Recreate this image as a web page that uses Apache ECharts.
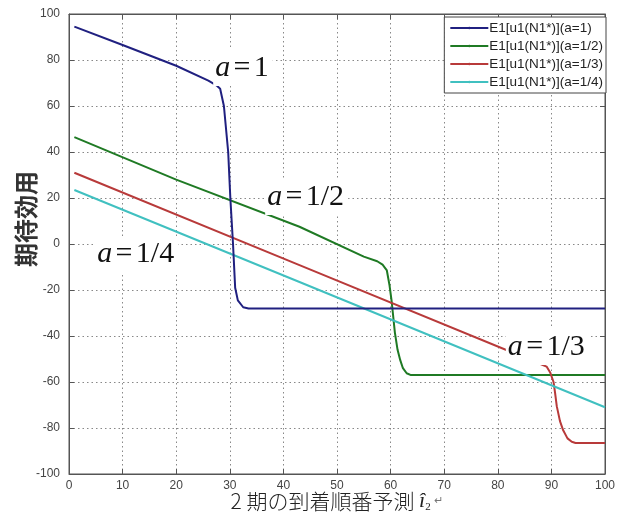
<!DOCTYPE html>
<html>
<head>
<meta charset="utf-8">
<script src="https://cdn.jsdelivr.net/npm/echarts@6/dist/echarts.min.js"></script>
<style>
  html, body { margin: 0; padding: 0; background: #fff; }
  #myChart { width: 622px; height: 518px; }
</style>
</head>
<body>
<div id="myChart"></div>
<script>
// data: [x, y] pairs
const seriesNames = ['E1[u1(N1*)](a=1)', 'E1[u1(N1*)](a=1/2)', 'E1[u1(N1*)](a=1/3)', 'E1[u1(N1*)](a=1/4)'];
const curveA1 = [[1,94.5],[10,86.5],[20,77.5],[26,71],[27.5,69],[28.2,67.5],[28.9,60],[29.7,40],[30.1,20],[30.6,0],[31,-19],[31.5,-24.5],[32.5,-27.5],[33.5,-28],[100,-28]];
const curveA2 = [[1,46.5],[20,28],[43,7.5],[55,-5.5],[57.5,-7.5],[58.5,-9],[59.3,-11.5],[59.8,-18],[60.2,-25],[60.8,-38.5],[61.3,-46],[61.8,-50.5],[62.3,-54],[63,-56.2],[63.8,-57],[100,-57]];
const curveA3 = [[1,31],[43,-9.2],[88.3,-52.5],[89.1,-53.3],[89.8,-56],[90.4,-60],[90.7,-65],[91,-70.5],[91.6,-77],[92.2,-81],[93,-84.5],[93.8,-86],[94.5,-86.5],[100,-86.5]];
const curveA4 = [[1,23.5],[43,-16.5],[100,-71]];
const curveColors = ['#202080', '#1f7a24', '#b83a3a', '#40c0c0'];
// tick labels / axis ranges
const xMin = 0, xMax = 100, xStep = 10;
const yMin = -100, yMax = 100, yStep = 20;
// annotations: [text in fraction, x, y(center)]
const notes = [['1', 26.9, 76.5], ['1/2', 36.6, 20.4], ['1/4', 4.9, -4.3], ['1/3', 81.5, -44.8]];

let myChart = echarts.init(document.getElementById('myChart'));
const curves = [curveA1, curveA2, curveA3, curveA4];

const axisLab = { color: '#444', fontFamily: 'Arial, Liberation Sans', fontSize: 12 };
const gridLine = { show: true, lineStyle: { color: '#888', type: [1.5, 3], width: 1 } };

myChart.setOption({
  animation: false,
  backgroundColor: '#fff',
  grid: {
    left: 69, right: 17, top: 14, bottom: 44,
    containLabel: false, outerBoundsMode: 'none',
    show: true, borderColor: '#555', borderWidth: 1
  },
  legend: {
    orient: 'vertical',
    right: 16,
    top: 17,
    itemWidth: 38,
    itemHeight: 3,
    itemGap: 4,
    padding: [4, 3, 4, 5],
    borderColor: '#444',
    borderWidth: 1,
    backgroundColor: '#fff',
    textStyle: { fontFamily: 'Arial, Liberation Sans', fontSize: 13.5, color: '#222', padding: [0, 0, 0, -4] },
    data: seriesNames
  },
  xAxis: [{
    type: 'value', min: xMin, max: xMax, interval: xStep,
    axisLine: { show: true, onZero: false, lineStyle: { color: '#555' } },
    axisTick: { inside: true, length: 5, lineStyle: { color: '#555' } },
    axisLabel: Object.assign({ margin: 6 }, axisLab),
    splitLine: gridLine,
    name: '{t|2 期の到着順番予測 }{i|î}{s|2}{r| ↵}',
    nameLocation: 'middle',
    nameMoveOverlap: false,
    nameGap: 16,
    nameTextStyle: {
      rich: {
        t: { fontFamily: 'Noto Sans CJK JP', fontSize: 21, color: '#222', fontWeight: 300 },
        i: { fontFamily: 'Liberation Serif', fontStyle: 'italic', fontSize: 22, color: '#222' },
        s: { fontFamily: 'Liberation Serif', fontSize: 11, color: '#222', padding: [12, 0, 0, 0] },
        r: { fontFamily: 'DejaVu Sans', fontSize: 11, color: '#777' }
      }
    }
  }, {
    type: 'value', min: xMin, max: xMax, interval: xStep, position: 'top',
    axisLine: { show: true, onZero: false, lineStyle: { color: '#555' } },
    axisTick: { inside: true, length: 5, lineStyle: { color: '#555' } },
    axisLabel: { show: false }, splitLine: { show: false }
  }],
  yAxis: [{
    type: 'value', min: yMin, max: yMax, interval: yStep,
    axisLine: { show: true, onZero: false, lineStyle: { color: '#555' } },
    axisTick: { show: true, inside: true, length: 5, lineStyle: { color: '#555' } },
    axisLabel: Object.assign({ margin: 9 }, axisLab),
    splitLine: gridLine,
    name: '期待効用',
    nameLocation: 'middle',
    nameRotate: 90,
    nameMoveOverlap: false,
    nameGap: 31,
    nameTextStyle: { fontFamily: 'Noto Sans CJK JP', fontSize: 24, fontWeight: 'bold', color: '#333', padding: [0, 0, 0, 50] }
  }, {
    type: 'value', min: yMin, max: yMax, interval: yStep, position: 'right',
    axisLine: { show: true, onZero: false, lineStyle: { color: '#555' } },
    axisTick: { show: true, inside: true, length: 5, lineStyle: { color: '#555' } },
    axisLabel: { show: false }, splitLine: { show: false }
  }],
  series: curves.map((d, i) => ({
    name: seriesNames[i],
    type: 'line',
    data: d,
    symbol: 'none',
    smooth: false,
    color: curveColors[i],
    lineStyle: { width: 2, color: curveColors[i] },
    z: 3 + (i === 0 ? 1 : 0)
  }))
});

// annotation labels, placed from data coordinates
myChart.setOption({
  graphic: notes.map(n => {
    const p = myChart.convertToPixel({ gridIndex: 0 }, [n[1], n[2]]);
    return {
      type: 'text',
      x: p[0], y: p[1],
      z: 10,
      style: {
        text: '{a|a} {e|=} {v|' + n[0] + '}',
        verticalAlign: 'middle',
        backgroundColor: '#fff',
        padding: [3, 4, 3, 2],
        rich: {
          a: { fontFamily: 'Liberation Serif', fontStyle: 'italic', fontSize: 30, fill: '#111' },
          e: { fontFamily: 'Liberation Serif', fontSize: 30, fill: '#111' },
          v: { fontFamily: 'Liberation Serif', fontSize: 30, fill: '#111' }
        }
      }
    };
  })
});
</script>
</body>
</html>
